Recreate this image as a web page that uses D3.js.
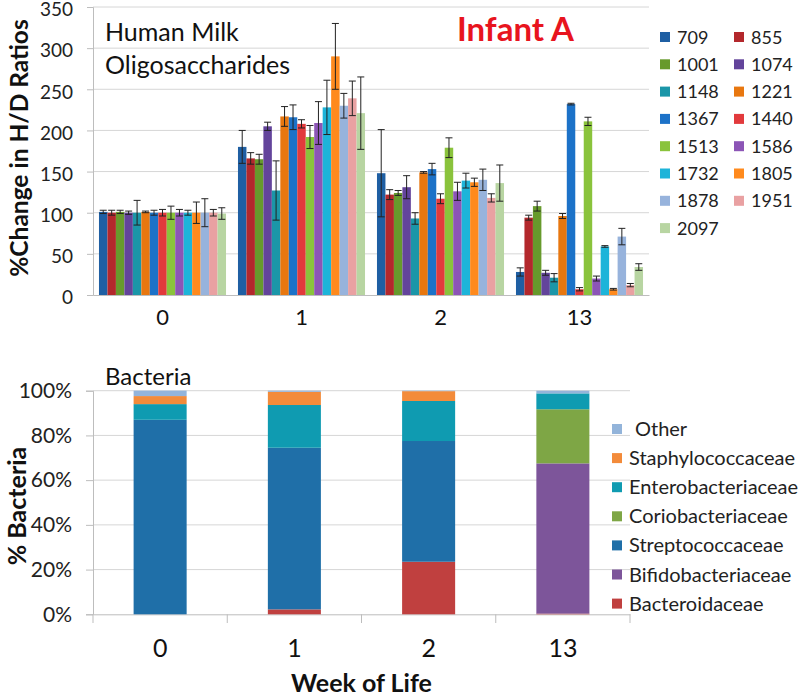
<!DOCTYPE html>
<html><head><meta charset="utf-8">
<script src="https://cdn.jsdelivr.net/npm/d3@7/dist/d3.min.js"></script>
<style>
body{margin:0;background:#fff;}
svg{display:block;font-family:Lato,"Open Sans",sans-serif;}
</style></head>
<body><svg id="c" width="800" height="698"></svg>
<script>
// ---- Data ----
const weeks = ["0","1","2","13"];
const hmoSeries = ["709","855","1001","1074","1148","1221","1367","1440","1513","1586","1732","1805","1878","1951","2097"];
const hmoColors = ["#1f5fa3","#b3282c","#679a2c","#63449b","#1b96a8","#e8770f","#1c72c8","#e23a3c","#8ac33c","#8c55b6","#1db4d9","#ff8a1d","#97b3dc","#e9a1a2","#b8d5a2"];
const week0Values = [101,100,101,100,100,101,100,100,100,100,100,100,100,100,99];
const week0Err    = [2,3,2,2,15,1,3,4,8,4,3,13,17,4,7];
const week1Values = [180,166,165,205,127,217,216,208,192,209,228,290,230,239,221];
const week1Err    = [20,7,6,5,36,12,15,5,14,26,33,40,15,21,44];
const week2Values = [148,122,124,131,93,149,153,117,179,126,139,137,140,118,136];
const week2Err    = [53,6,3,14,7,1,7,6,12,11,9,5,13,5,22];
const week13Values= [28,94,108,27,21,96,232,7,211,20,59,7,71,12,34];
const week13Err   = [5,3,6,3,5,3,1,2,5,3,1,1,10,2,4];
const hmoTicks = [0,50,100,150,200,250,300,350];

const families = ["Bacteroidaceae","Bifidobacteriaceae","Streptococcaceae","Coriobacteriaceae","Enterobacteriaceae","Staphylococcaceae","Other"];
const familyColors = ["#c0403f","#7d559a","#1f6fa8","#7ea645","#0f9bb1","#f38b3a","#93b4da"];
const bacteroidaceae     = [0, 2.2, 23.5, 0.3];
const bifidobacteriaceae = [0, 0, 0, 67.2];
const streptococcaceae   = [87, 72.3, 54, 0];
const coriobacteriaceae  = [0, 0, 0, 24.2];
const enterobacteriaceae = [7, 19.1, 17.9, 7.1];
const staphylococcaceae  = [3.6, 5.9, 4.4, 0];
const other              = [2.4, 0.5, 0.2, 1.2];
const pctTicks = [0,20,40,60,80,100];

// ---- Build ----
const svg = d3.select("#c");
const grid = "#d6d6d6", axisC = "#bdbdbd";

// Top chart
const vals = [week0Values, week1Values, week2Values, week13Values];
const errs = [week0Err, week1Err, week2Err, week13Err];
const x0 = d3.scaleBand().domain(weeks).range([93,649]).paddingInner(0.086).paddingOuter(0.043);
const x1 = d3.scaleBand().domain(hmoSeries).range([0, x0.bandwidth()]);
const y = d3.scaleLinear().domain([0,350]).range([295,7]);

const topG = svg.append("g");
topG.append("g").selectAll("line").data(hmoTicks.slice(1)).join("line")
  .attr("x1",93).attr("x2",649).attr("y1",d=>y(d)).attr("y2",d=>y(d))
  .attr("stroke",grid).attr("stroke-width",1);

const yAx = topG.append("g").attr("transform","translate(93,0)")
  .call(d3.axisLeft(y).tickValues(hmoTicks).tickSize(6).tickPadding(14));
yAx.select(".domain").attr("stroke",axisC);
yAx.selectAll(".tick line").attr("stroke",axisC);
yAx.selectAll("text").attr("font-size",19).attr("fill","#222").attr("font-family","Lato").attr("dy","0.46em");

const xAx = topG.append("g").attr("transform","translate(0,295)")
  .call(d3.axisBottom(x0).tickSize(0).tickPadding(14));
xAx.select(".domain").attr("stroke",axisC);
xAx.selectAll("text").attr("font-size",22).attr("fill","#111").attr("font-family","Lato");

const groups = topG.append("g").selectAll("g").data(weeks).join("g")
  .attr("transform",d=>`translate(${x0(d)},0)`);
groups.each(function(w,wi){
  const g = d3.select(this);
  const data = hmoSeries.map((s,i)=>({s,i,v:vals[wi][i],e:errs[wi][i]}));
  g.selectAll("rect").data(data).join("rect")
    .attr("x",d=>x1(d.s)).attr("width",x1.bandwidth())
    .attr("y",d=>y(d.v)).attr("height",d=>y(0)-y(d.v))
    .attr("fill",d=>hmoColors[d.i]);
  const eb = g.selectAll("g.eb").data(data).join("g").attr("class","eb")
    .attr("stroke","#222").attr("stroke-width",1);
  eb.append("line").attr("x1",d=>x1(d.s)+x1.bandwidth()/2).attr("x2",d=>x1(d.s)+x1.bandwidth()/2)
    .attr("y1",d=>y(d.v+d.e)).attr("y2",d=>y(Math.max(0,d.v-d.e)));
  eb.append("line").attr("x1",d=>x1(d.s)+x1.bandwidth()/2-3.5).attr("x2",d=>x1(d.s)+x1.bandwidth()/2+3.5)
    .attr("y1",d=>y(d.v+d.e)).attr("y2",d=>y(d.v+d.e));
  eb.append("line").attr("x1",d=>x1(d.s)+x1.bandwidth()/2-3.5).attr("x2",d=>x1(d.s)+x1.bandwidth()/2+3.5)
    .attr("y1",d=>y(Math.max(0,d.v-d.e))).attr("y2",d=>y(Math.max(0,d.v-d.e)));
});

topG.append("text").attr("x",105).attr("y",41).attr("font-size",25).attr("fill","#111").text("Human Milk");
topG.append("text").attr("x",105).attr("y",74).attr("font-size",25).attr("fill","#111").text("Oligosaccharides");
topG.append("text").attr("x",457).attr("y",41).attr("font-size",33).attr("font-weight","bold").attr("fill","#e8141e").text("Infant A");
topG.append("text").attr("transform","translate(28,148) rotate(-90)").attr("text-anchor","middle")
  .attr("font-size",24.5).attr("font-weight","bold").attr("fill","#111").text("%Change in H/D Ratios");

const leg = topG.append("g").selectAll("g").data(hmoSeries).join("g")
  .attr("transform",(d,i)=>`translate(${660 + (i%2)*74},${37 + Math.floor(i/2)*27.3})`);
leg.append("rect").attr("x",0).attr("y",-5).attr("width",10).attr("height",10).attr("fill",(d,i)=>hmoColors[i]);
leg.append("text").attr("x",17).attr("y",6.5).attr("font-size",18).attr("fill","#222").text(d=>d);

// Bottom chart
const bx = d3.scaleBand().domain(weeks).range([93,630]).paddingInner(0.605).paddingOuter(0.3025);
const by = d3.scaleLinear().domain([0,100]).range([614.3,390.7]);
const famArrays = [bacteroidaceae,bifidobacteriaceae,streptococcaceae,coriobacteriaceae,enterobacteriaceae,staphylococcaceae,other];
const table = weeks.map((w,i)=>{const o={week:w}; families.forEach((f,j)=>o[f]=famArrays[j][i]); return o;});
const stacked = d3.stack().keys(families)(table);

const botG = svg.append("g");
botG.append("g").selectAll("line").data(pctTicks.slice(1)).join("line")
  .attr("x1",93).attr("x2",630).attr("y1",d=>by(d)).attr("y2",d=>by(d))
  .attr("stroke",grid);
const byAx = botG.append("g").attr("transform","translate(93,0)")
  .call(d3.axisLeft(by).tickValues(pctTicks).tickFormat(d=>d+"%").tickSize(7).tickPadding(14));
byAx.select(".domain").attr("stroke",axisC);
byAx.selectAll(".tick line").attr("stroke",axisC);
byAx.selectAll("text").attr("font-size",21).attr("fill","#222").attr("font-family","Lato");

const bxAx = botG.append("g").attr("transform","translate(0,614.3)")
  .call(d3.axisBottom(bx).tickSize(0).tickPadding(25));
bxAx.select(".domain").attr("stroke",axisC);
bxAx.selectAll("text").attr("font-size",25).attr("fill","#111").attr("font-family","Lato");
const bounds = weeks.map(w=>bx(w)-bx.step()*bx.paddingInner()/2).concat([630]);
botG.append("g").selectAll("line").data(bounds).join("line")
  .attr("x1",d=>d).attr("x2",d=>d).attr("y1",614.3).attr("y2",623).attr("stroke",axisC);

botG.append("g").selectAll("g").data(stacked).join("g")
  .attr("fill",(d,i)=>familyColors[i])
  .selectAll("rect").data(d=>d).join("rect")
  .attr("x",d=>bx(d.data.week)).attr("width",bx.bandwidth())
  .attr("y",d=>by(d[1])).attr("height",d=>by(d[0])-by(d[1]));

botG.append("text").attr("x",105).attr("y",385).attr("font-size",24).attr("fill","#111").text("Bacteria");
botG.append("text").attr("transform","translate(26,506) rotate(-90)").attr("text-anchor","middle")
  .attr("font-size",25).attr("font-weight","bold").attr("fill","#111").text("% Bacteria");
botG.append("text").attr("x",361.5).attr("y",692).attr("text-anchor","middle")
  .attr("font-size",25).attr("font-weight","bold").attr("fill","#111").text("Week of Life");

const legOrder = families.slice().reverse();
const bleg = botG.append("g").selectAll("g").data(legOrder).join("g")
  .attr("transform",(d,i)=>`translate(612,${429 + i*29.1})`);
bleg.append("rect").attr("x",0).attr("y",-5).attr("width",10).attr("height",10)
  .attr("fill",d=>familyColors[families.indexOf(d)]);
bleg.append("text").attr("x",d=>d==="Other"?23:17).attr("y",7).attr("font-size",20).attr("fill","#222").text(d=>d);
</script></body></html>
